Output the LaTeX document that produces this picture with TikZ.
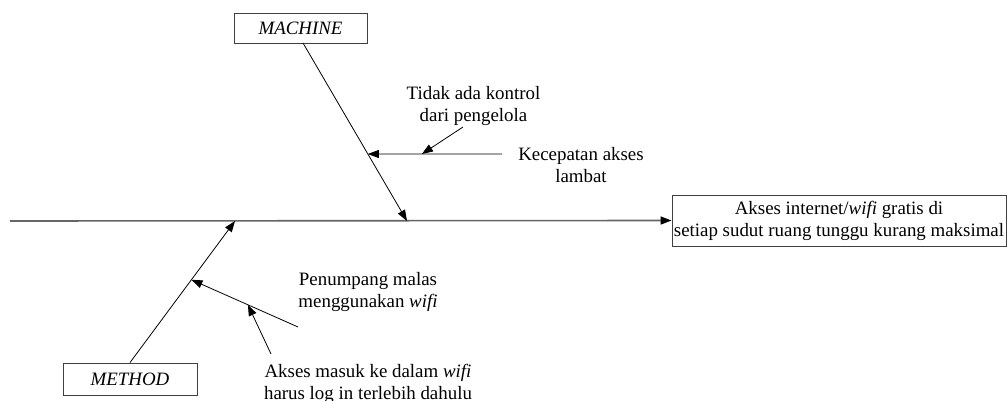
\documentclass[tikz,border=0pt]{standalone}
\usepackage{fontspec}
\setmainfont{Liberation Serif}
\usetikzlibrary{arrows.meta,calc,positioning}

\begin{document}
\begin{tikzpicture}[x=1pt,y=-1pt,
    font=\fontsize{18.9}{22}\selectfont,
    kotak/.style={draw=black!75,line width=0.9pt,inner sep=0pt,align=center},
    panah/.style={-{Triangle[length=11pt,width=8pt,black]},line width=0.8pt},
    teks/.style={align=center,inner sep=0pt}]
  \useasboundingbox (0,0) rectangle (1008,401);
  % kotak akibat dan kategori
  \node[kotak,minimum width=334pt,minimum height=51pt] (akibat) at (839,220.5)
    {Akses internet/\textit{wifi} gratis di\\setiap sudut ruang tunggu kurang maksimal};
  \node[kotak,minimum width=133pt,minimum height=30pt] (machine) at (300.5,28) {\textit{MACHINE}};
  \node[kotak,minimum width=134pt,minimum height=32pt] (method) at (130,379) {\textit{METHOD}};
  % teks penyebab
  \node[teks] (tidak) at (473.5,106) {Tidak ada kontrol\\dari pengelola};
  \node[teks] (cepat) at (581,165) {Kecepatan akses\\lambat};
  \node[teks] (malas) at (368,292) {Penumpang malas\\menggunakan \textit{wifi}};
  \node[teks] (login) at (368,384) {Akses masuk ke dalam \textit{wifi}\\harus log in terlebih dahulu};
  % titik bantu
  \coordinate (ekor) at (10,221);
  \coordinate (m0) at (303,43);
  \coordinate (m1) at (407,221);
  \coordinate (t1) at (235,221);
  \coordinate (k0) at (502,154);
  \coordinate (d0) at (463,127);
  \coordinate (p0) at (298,327);
  \coordinate (a0) at (271,354);
  % tulang utama
  \draw[panah,draw=black!60,line width=1.6pt] (ekor) -- (akibat.west);
  % machine
  \draw[panah] (m0) -- (m1);
  \path (m0) -- (m1) coordinate[pos=0.6236] (m2);
  \draw[panah] (k0) -- (m2);
  \path (k0) -- (m2) coordinate[pos=0.597] (k2);
  \draw[panah] (d0) -- (k2);
  % method
  \draw[panah] (method.north) -- (t1);
  \path (method.north) -- (t1) coordinate[pos=0.585] (t2);
  \draw[panah] (p0) -- (t2);
  \path (p0) -- (t2) coordinate[pos=0.47] (p2);
  \draw[panah] (a0) -- (p2);
\end{tikzpicture}
\end{document}
